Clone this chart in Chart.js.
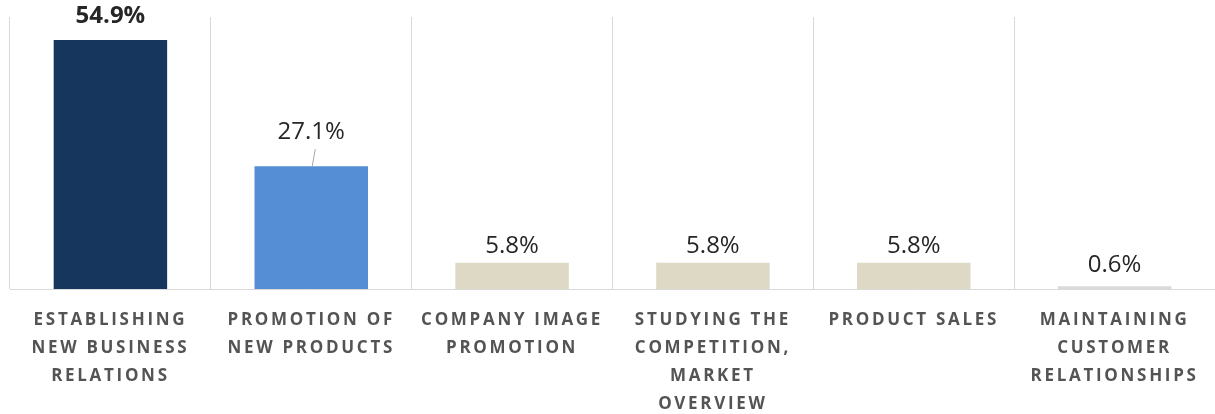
<!DOCTYPE html>
<html>
<head>
<meta charset="utf-8">
<script src="https://cdn.jsdelivr.net/npm/chart.js@4/dist/chart.umd.min.js"></script>
<style>
  html, body { margin: 0; padding: 0; background: #fff; }
  #wrap { width: 1215px; height: 414px; }
</style>
</head>
<body>
<div id="wrap"><canvas id="chart"></canvas></div>
<script>
// categories (multi-line labels) and values in %
const categories = [
  ["ESTABLISHING", "NEW BUSINESS", "RELATIONS"],
  ["PROMOTION OF", "NEW PRODUCTS"],
  ["COMPANY IMAGE", "PROMOTION"],
  ["STUDYING THE", "COMPETITION,", "MARKET", "OVERVIEW"],
  ["PRODUCT SALES"],
  ["MAINTAINING", "CUSTOMER", "RELATIONSHIPS"]
];
const shares = [54.9, 27.1, 5.8, 5.8, 5.8, 0.6];
const barColors = ["#17365d", "#558ed5", "#ddd9c4", "#ddd9c4", "#ddd9c4", "#d9d9d9"];

// letter spacing for axis labels, reset before bars + values are drawn
const spacingPlugin = {
  id: "spacing",
  beforeDraw(chart) { chart.ctx.letterSpacing = "2.7px"; },
  beforeDatasetsDraw(chart) { chart.ctx.letterSpacing = "0px"; }
};

// value labels above bars
const valueLabels = {
  id: "valueLabels",
  afterDatasetsDraw(chart, args, opts) {
    const ctx = chart.ctx;
    const bars = chart.getDatasetMeta(0).data;
    ctx.save();
    ctx.textAlign = "center";
    ctx.textBaseline = "middle";
    ctx.fillStyle = "#262626";
    bars.forEach((bar, i) => {
      const y = bar.y - opts.offsets[i];
      ctx.font = (i === 0 ? "bold " : "") + "24px 'Open Sans'";
      ctx.fillText(shares[i].toFixed(1) + "%", bar.x, y);
      if (opts.leader[i]) {
        ctx.strokeStyle = "#a6a6a6";
        ctx.lineWidth = 1;
        ctx.beginPath();
        ctx.moveTo(bar.x + 4, y + 17);
        ctx.lineTo(bar.x + 1, bar.y);
        ctx.stroke();
      }
    });
    ctx.restore();
  }
};

new Chart(document.getElementById("chart"), {
  type: "bar",
  data: {
    labels: categories,
    datasets: [{
      data: shares,
      backgroundColor: barColors,
      borderWidth: 0,
      categoryPercentage: 1,
      barPercentage: 0.565
    }]
  },
  options: {
    responsive: true,
    maintainAspectRatio: false,
    animation: false,
    layout: { padding: { left: 10, right: 0, top: 17, bottom: 0 } },
    plugins: {
      legend: { display: false },
      tooltip: { enabled: false },
      valueLabels: {
        offsets: [24, 34, 17, 17, 17, 21],
        leader: [false, true, false, false, false, false]
      }
    },
    scales: {
      x: {
        afterFit(scale) { scale.height = 125; },
        grid: { display: true, offset: true, color: "#d9d9d9", drawTicks: false },
        border: { display: true, color: "#d9d9d9" },
        ticks: {
          color: "#545454",
          font: { family: "'Open Sans'", size: 17, weight: "bold", lineHeight: "28px" },
          padding: 17,
          maxRotation: 0,
          autoSkip: false
        }
      },
      y: {
        display: false,
        min: 0,
        max: 60
      }
    }
  },
  plugins: [spacingPlugin, valueLabels]
});
</script>
</body>
</html>
